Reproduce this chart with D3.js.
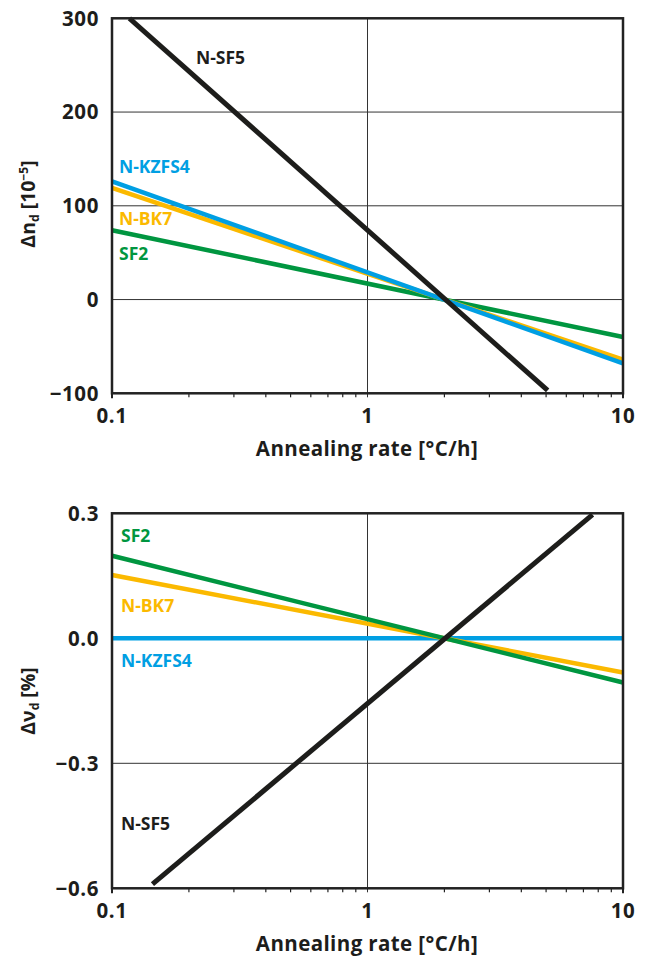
<!DOCTYPE html>
<html><head><meta charset="utf-8">
<script src="https://cdn.jsdelivr.net/npm/d3@7"></script>
<style>
body{margin:0;background:#fff;}
svg text{font-family:"Open Sans",sans-serif;font-weight:700;}
</style></head>
<body><svg id="c" width="649" height="957"></svg>
<script>
// ---- data ----
const xTicks = [0.1, 1, 10];
const xTickLabels = ["0.1", "1", "10"];
const topYTicks = [-100, 0, 100, 200, 300];
const topYTickLabels = ["\u2212100", "0", "100", "200", "300"];
const botYTicks = [-0.6, -0.3, 0.0, 0.3];
const botYTickLabels = ["\u22120.6", "\u22120.3", "0.0", "0.3"];
const glasses = ["N-SF5", "N-KZFS4", "N-BK7", "SF2"];
const colors = {"N-SF5":"#1d1d1b","N-KZFS4":"#009fe3","N-BK7":"#fbb900","SF2":"#009640"};
// Δn_d [10^-5] vs annealing rate: endpoints of straight lines (log x)
const topRate = {"N-SF5":[0.117, 5.07], "N-KZFS4":[0.1, 10], "N-BK7":[0.1, 10], "SF2":[0.1, 10]};
const topVal  = {"N-SF5":[300, -97], "N-KZFS4":[126, -68], "N-BK7":[119, -64], "SF2":[74, -40]};
// Δν_d [%]
const botRate = {"N-SF5":[0.144, 7.6], "N-KZFS4":[0.1, 10], "N-BK7":[0.1, 10], "SF2":[0.1, 10]};
const botVal  = {"N-SF5":[-0.59, 0.297], "N-KZFS4":[0, 0], "N-BK7":[0.152, -0.082], "SF2":[0.198, -0.106]};

const svg = d3.select("#c");
const L = 112, R = 623;
const x = d3.scaleLog().domain([0.1, 10]).range([L, R]);
const minor = [];
for (let d of [0.1, 1]) for (let k = 2; k <= 9; k++) minor.push(d * k);

function panel(cfg) {
  const y = d3.scaleLinear().domain(cfg.domain).range([cfg.bottom, cfg.top]);
  const g = svg.append("g");
  // grid
  g.selectAll(".hg").data(cfg.yTicks).enter().append("line")
    .attr("x1", L).attr("x2", R).attr("y1", d => y(d)).attr("y2", d => y(d))
    .attr("stroke", "#333").attr("stroke-width", 1);
  g.append("line").attr("x1", x(1)).attr("x2", x(1)).attr("y1", cfg.top).attr("y2", cfg.bottom + 4)
    .attr("stroke", "#333").attr("stroke-width", 1);
  // minor ticks
  g.selectAll(".mt").data(minor).enter().append("line")
    .attr("x1", d => x(d)).attr("x2", d => x(d)).attr("y1", cfg.bottom).attr("y2", cfg.bottom + 4)
    .attr("stroke", "#222").attr("stroke-width", 1.2);
  // lines
  const line = d3.line().x(d => x(d[0])).y(d => y(d[1]));
  const order = cfg.order;
  order.forEach(k => {
    const pts = cfg.rate[k].map((r, i) => [r, cfg.val[k][i]]);
    g.append("path").attr("d", line(pts)).attr("fill", "none")
      .attr("stroke", colors[k]).attr("stroke-width", k === "N-SF5" ? 5 : 4.5);
  });
  // frame
  g.append("rect").attr("x", L).attr("y", cfg.top).attr("width", R - L).attr("height", cfg.bottom - cfg.top)
    .attr("fill", "none").attr("stroke", "#222").attr("stroke-width", 2.5);
  g.selectAll(".et").data([0.1, 10]).enter().append("line")
    .attr("x1", d => x(d)).attr("x2", d => x(d)).attr("y1", cfg.bottom).attr("y2", cfg.bottom + 5)
    .attr("stroke", "#222").attr("stroke-width", 2);
  // axes labels
  g.selectAll(".yl").data(cfg.yTicks).enter().append("text")
    .attr("x", 99).attr("y", d => y(d)).attr("dy", "0.36em").attr("text-anchor", "end")
    .attr("font-size", 20.5).attr("letter-spacing", 0.6).attr("fill", "#1d1d1b").text((d, i) => cfg.yLabels[i]);
  g.selectAll(".xl").data(xTicks).enter().append("text")
    .attr("x", d => x(d)).attr("y", cfg.bottom + 30).attr("text-anchor", "middle")
    .attr("font-size", 20.5).attr("letter-spacing", 0.6).attr("fill", "#1d1d1b").text((d, i) => xTickLabels[i]);
  g.append("text").attr("x", 367).attr("y", cfg.bottom + 63).attr("text-anchor", "middle")
    .attr("font-size", 20.5).attr("letter-spacing", 0.4).attr("fill", "#1d1d1b").text("Annealing rate [\u00B0C/h]");
  const yt = g.append("text").attr("transform", `translate(35,${cfg.titleY}) rotate(-90)`)
    .attr("text-anchor", "middle").attr("font-size", 19.5).attr("fill", "#1d1d1b");
  cfg.title(yt);
  // series labels
  cfg.labels.forEach(l => {
    g.append("text").attr("x", l[1]).attr("y", l[2]).attr("font-size", 17.5)
      .attr("fill", colors[l[0]]).text(l[0]);
  });
}

panel({
  domain: [-100, 300], top: 18.3, bottom: 393.3, yTicks: topYTicks, yLabels: topYTickLabels,
  rate: topRate, val: topVal, titleY: 204,
  order: ["SF2", "N-BK7", "N-KZFS4", "N-SF5"],
  title: t => {
    t.append("tspan").text("\u0394n");
    t.append("tspan").attr("font-size", 12).attr("dy", 4).text("d");
    t.append("tspan").attr("dy", -4).text(" [10");
    t.append("tspan").attr("font-size", 12).attr("dy", -7).text("\u22125");
    t.append("tspan").attr("dy", 7).text("]");
  },
  labels: [["N-SF5", 196, 64], ["N-KZFS4", 119, 173], ["N-BK7", 119, 225], ["SF2", 119, 260]]
});
panel({
  domain: [-0.6, 0.3], top: 513.3, bottom: 888.3, yTicks: botYTicks, yLabels: botYTickLabels,
  rate: botRate, val: botVal, titleY: 701,
  order: ["N-KZFS4", "N-BK7", "SF2", "N-SF5"],
  title: t => {
    t.append("tspan").text("\u0394\u03BD");
    t.append("tspan").attr("font-size", 12).attr("dy", 4).text("d");
    t.append("tspan").attr("dy", -4).text(" [%]");
  },
  labels: [["SF2", 121, 542], ["N-BK7", 121, 612], ["N-KZFS4", 121, 667], ["N-SF5", 121, 830]]
});
</script></body></html>
